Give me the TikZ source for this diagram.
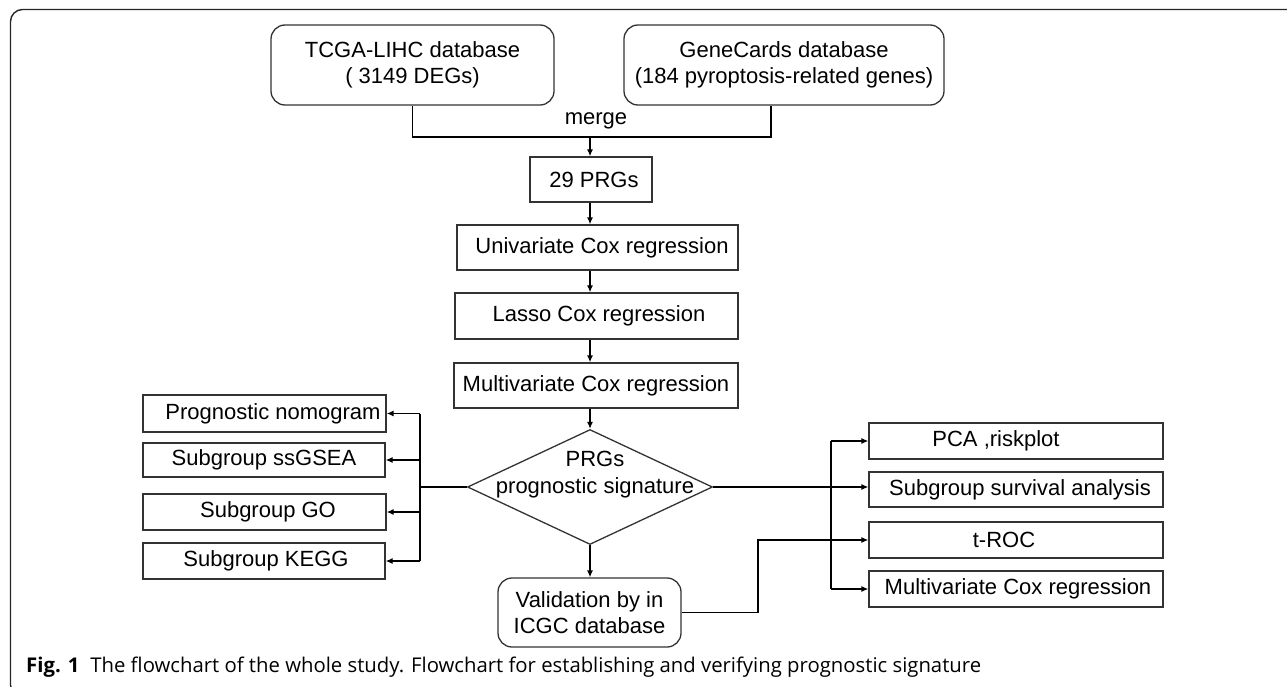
\documentclass[tikz,border=0pt]{standalone}
\usepackage{fontspec}
\setmainfont{Liberation Sans}
\newfontfamily\capfont{Open Sans}
\usetikzlibrary{arrows.meta,shapes.geometric}
\newcommand\tshift[1]{\hspace*{#1}}
\begin{document}
\begin{tikzpicture}[x=1pt,y=-1pt,
  box/.style={draw=black!80, line width=1.3pt, rectangle, inner sep=0pt, align=center, font=\fontsize{22}{26}\selectfont},
  rbox/.style={box, rounded corners=14pt},
  conn/.style={draw=black, line width=1.3pt},
  arr/.style={conn, -{Latex[length=7pt,width=6pt]}},
  lbl/.style={inner sep=0pt, align=center, font=\fontsize{22}{27}\selectfont}]
\useasboundingbox (0,0) rectangle (1287,687);
\begin{scope}
\clip (0,0) rectangle (1287,687);
\draw[line width=1.4pt, black!85, rounded corners=12pt] (1300,9.5) -- (10.5,9.5) -- (10.5,697) -- (60,697);
\end{scope}
% top boxes
\node[rbox, minimum width=283pt, minimum height=80pt] (tcga) at (412.5,65) {TCGA-LIHC database\\( 3149 DEGs)};
\node[rbox, minimum width=320pt, minimum height=80pt] (gene) at (784,65) {GeneCards database\\(184 pyroptosis-related genes)};
\node[lbl] (mergetxt) at (596,121) {merge};
% central chain
\node[box, minimum width=122pt, minimum height=45pt] (prgs) at (591,179.5) {\tshift{6pt}29 PRGs};
\node[box, minimum width=281pt, minimum height=45pt] (uni) at (597.5,247.5) {\tshift{9pt}Univariate Cox regression};
\node[box, minimum width=283pt, minimum height=46pt] (lasso) at (596.5,316) {\tshift{5pt}Lasso Cox regression};
\node[box, minimum width=284pt, minimum height=45pt] (multi) at (596,385.5) {Multivariate Cox regression};
\node[draw=black!80, line width=1.3pt, diamond, minimum width=245pt, minimum height=115pt, inner sep=0pt] (dia) at (590,487) {};
\node[lbl] (diatxt) at (595,475) {PRGs\\prognostic signature};
\node[rbox, minimum width=183pt, minimum height=69pt] (valid) at (589.5,612.5) {Validation by in\\ICGC database};
% left boxes
\node[box, minimum width=243pt, minimum height=37pt] (nom) at (264.5,413.5) {\tshift{17pt}Prognostic nomogram};
\node[box, minimum width=242pt, minimum height=34pt] (ssg) at (264,460) {Subgroup ssGSEA};
\node[box, minimum width=243pt, minimum height=36pt] (go) at (264.5,512) {\tshift{7pt}Subgroup GO};
\node[box, minimum width=242pt, minimum height=36pt] (kegg) at (264,561) {\tshift{4pt}Subgroup KEGG};
% right boxes
\node[box, minimum width=294pt, minimum height=36pt] (pca) at (1016,441) {\tshift{-40pt}PCA ,riskplot};
\node[box, minimum width=294pt, minimum height=35pt] (surv) at (1016,489.5) {\tshift{8pt}Subgroup survival analysis};
\node[box, minimum width=294pt, minimum height=36pt] (troc) at (1016,540) {\tshift{-24pt}t-ROC};
\node[box, minimum width=294pt, minimum height=36pt] (mcox) at (1016,589) {\tshift{4pt}Multivariate Cox regression};
% caption
\node[anchor=base west, inner sep=0pt, font=\capfont\fontsize{20.3}{24}\selectfont] (cap) at (26,672) {\textbf{Fig. 1}\hspace{11pt}The flowchart of the whole study. Flowchart for establishing and verifying prognostic signature};
% connectors
\coordinate (cx) at (590,0);
\coordinate (mj) at (590,137);
\draw[conn] (tcga.south) |- (mj) -| ([xshift=-13pt]gene.south);
\draw[arr] (mj) -- (cx |- prgs.north);
\draw[arr] (cx |- prgs.south) -- (cx |- uni.north);
\draw[arr] (cx |- uni.south) -- (cx |- lasso.north);
\draw[arr] (cx |- lasso.south) -- (cx |- multi.north);
\draw[arr] (cx |- multi.south) -- (dia.north);
\draw[arr] (dia.south) -- (cx |- valid.north);
% left bus
\coordinate (lb) at (420,487);
\draw[conn] (dia.west) -- (lb);
\draw[conn] (lb |- nom.east) -- (lb |- kegg.east);
\foreach \n in {nom,ssg,go,kegg} \draw[arr] (lb |- \n.east) -- (\n.east);
% right bus
\coordinate (rb) at (831,0);
\draw[conn] (rb |- pca.west) -- (rb |- mcox.west);
\draw[arr] (rb |- pca.west) -- (pca.west);
\draw[arr] (rb |- mcox.west) -- (mcox.west);
\draw[arr] (dia.east) -- (dia.east -| surv.west);
\coordinate (vb) at (758,0);
\draw[arr] (valid.east) -| (vb |- troc.west) -- (troc.west);
\end{tikzpicture}
\end{document}
